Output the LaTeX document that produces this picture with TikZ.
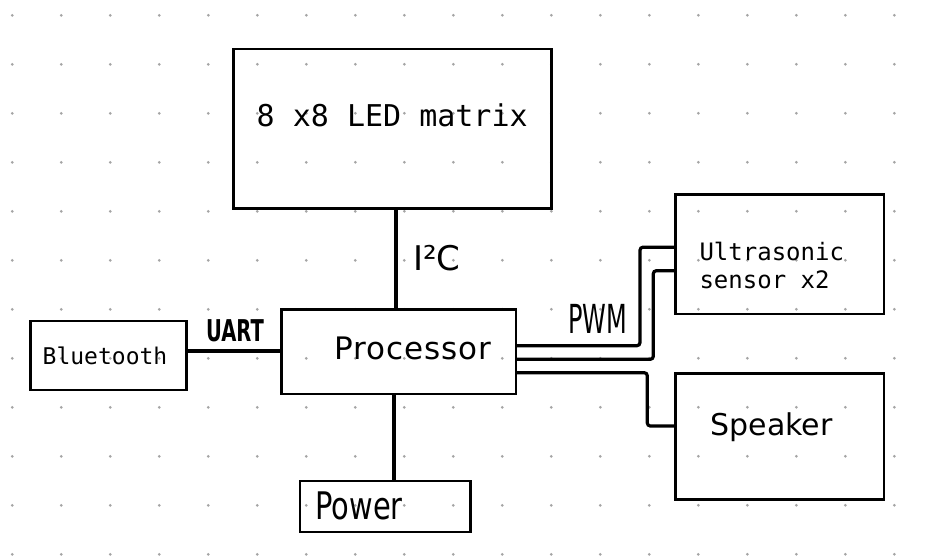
\documentclass[tikz,border=0pt]{standalone}
\usepackage{fontspec}
\setmainfont{DejaVu Sans}
\newfontfamily\monof{DejaVu Sans Mono}
\newfontfamily\procf{DejaVu Sans}[LetterSpace=3]
\definecolor{dotc}{RGB}{165,165,165}
\begin{document}
\begin{tikzpicture}[x=1pt,y=-1pt,
  box/.style={draw=black, line width=2.7pt, rectangle, inner sep=0pt, outer sep=0pt},
  wire/.style={draw=black, line width=3.2pt, rounded corners=3pt},
  lbl/.style={inner sep=0pt, outer sep=0pt, text=black},
]
\fill[white] (0,0) rectangle (936,555);
\path[use as bounding box] (0,0) rectangle (936,555);
% dot grid
\foreach \i in {0,...,18}{\foreach \j in {0,...,11}{
  \fill[dotc] ({12.3+49*\i},{15.3+49*\j}) circle[radius=1.5pt];}}
% boxes
\node[box, minimum width=318.4pt, minimum height=159.3pt] (led) at (392.5,128.65) {};
\node[box, minimum width=234.3pt, minimum height=84.7pt] (proc) at (398.85,351.65) {};
\node[box, minimum width=156pt, minimum height=69pt] (bt) at (108.7,355.5) {};
\node[box, minimum width=170.7pt, minimum height=51pt] (power) at (385.35,506.5) {};
\node[box, minimum width=208.3pt, minimum height=119.7pt] (sensor) at (779.85,254.15) {};
\node[box, minimum width=208.3pt, minimum height=126pt] (speaker) at (779.85,436.3) {};
% box texts
\node[lbl, anchor=base] (ledt) at (392.2,126.7) {\monof\fontsize{30}{36}\selectfont 8 x8 LED matrix};
\node[lbl, anchor=base] (proct) at (412.5,359.3) {\procf\fontsize{31}{37}\selectfont Processor};
\node[lbl, anchor=base] (bttext) at (105,364.3) {\monof\fontsize{23}{28}\selectfont Bluetooth};
\node[lbl, anchor=base] (spkt) at (771.7,435) {\fontsize{30}{36}\selectfont Speaker};
\node[lbl, anchor=base west, align=left, font=\monof\fontsize{24}{28.3}\selectfont] (sent) at (699.5,288.3) {Ultrasonic\\sensor x2};
% connectors
\draw[wire] ([xshift=3.5pt]led.south) -- ([xshift=-2.85pt]proc.north);
\draw[wire] ([xshift=-4.85pt]proc.south) -- ([xshift=8.65pt]power.north);
\draw[wire] ([yshift=4.5pt]bt.east) -- ([yshift=4.5pt]bt.east -| proc.west);
\draw[wire] ([yshift=6pt]proc.east) -- ++(124,0) |- ([yshift=7pt]sensor.west);
\draw[wire] ([yshift=-7.65pt]proc.east) -- ++(137.3,0) |- ([yshift=-16.55pt]sensor.west);
\draw[wire] ([yshift=-21.05pt]proc.east) -- ++(131.3,0) |- ([yshift=10.3pt]speaker.west);
% handwritten labels
\node[lbl] (i2c) at (437,258) {\fontsize{34}{40}\selectfont I²C};
\node[lbl] (uart) at (235,331) {\scalebox{0.65}[1]{\bfseries\fontsize{30}{36}\selectfont UART}};
\node[lbl] (pwm) at (597.5,319) {\scalebox{0.6}[1]{\fontsize{40}{46}\selectfont PWM}};
\node[lbl] (powt) at (359,506) {\scalebox{0.76}[1]{\fontsize{38}{44}\selectfont Power}};
\end{tikzpicture}
\end{document}
